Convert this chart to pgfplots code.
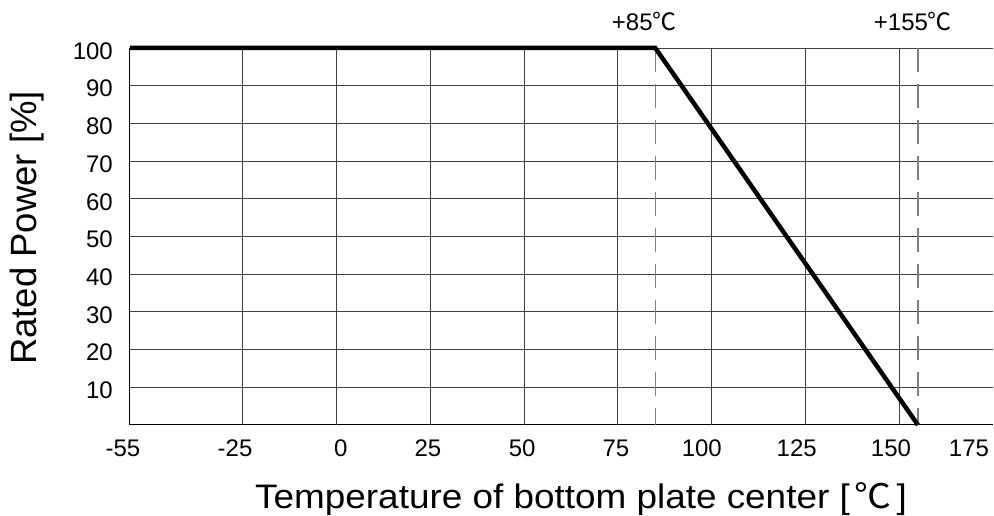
\documentclass[border=0pt]{standalone}
\usepackage{fontspec}
\setmainfont{Liberation Sans}
\newfontfamily\cjk{Noto Sans CJK SC}
\usepackage{graphicx}
\usepackage{pgfplots}
\pgfplotsset{compat=1.18}
\begin{document}
\begin{tikzpicture}
\path[use as bounding box] (-130pt,-91pt) rectangle (864pt,425pt);
\begin{axis}[
  at={(0,0)}, anchor=south west,
  scale only axis, width=863pt, height=377pt,
  xmin=-55, xmax=175, ymin=0, ymax=100,
  clip=false,
  /pgf/number format/assume math mode=true,
  axis x line*=bottom, axis y line*=left,
  axis line style={-, black, line width=1pt},
  xtick={-55,-27,1.2,24.4,49.5,74.5,97.4,122.7,147.8,168.6},
  xticklabels={\makebox[0pt]{-55\hspace*{14pt}},-25,0,25,50,75,100,125,150,175},
  xmajorgrids=false, ymajorgrids=true,
  extra x ticks={-25,0,25,50,75,100,125,150},
  extra x tick labels={},
  extra x tick style={grid=major},
  ytick={10,20,30,40,50,60,70,80,90,100},
  major grid style={black!75, line width=0.9pt},
  major tick length=0pt,
  tick label style={font=\fontsize{24}{28}\selectfont},
  xticklabel style={anchor=north, inner sep=0pt, yshift=-15pt},
  yticklabel style={anchor=east, inner sep=0pt, xshift=-17pt, yshift=-3pt},
  xlabel={\scalebox{1.085}[1]{Temperature of bottom plate center [\hspace{4pt}{\cjk ℃}\hspace{5pt}]}},
  ylabel={Rated Power [\%]},
  xlabel style={font=\fontsize{34}{40}\selectfont, at={(axis description cs:0.5226,-0.2202)}, anchor=base, inner sep=0pt},
  ylabel style={font=\fontsize{36.5}{40}\selectfont, at={(axis description cs:-0.139,0.5225)}, anchor=north, inner sep=0pt},
]
\addplot[gray, line width=1.3pt, dash pattern=on 24pt off 12pt] coordinates {(85,100) (85,0)};
\addplot[gray, line width=1.3pt, dash pattern=on 24pt off 12pt] coordinates {(155,100) (155,0)};
\addplot[black, line width=4.5pt, line join=miter] coordinates {(-55,100) (85,100) (155,0)};
\node[anchor=base, inner sep=0pt, font=\fontsize{24}{28}\selectfont] at ([xshift=-11pt,yshift=17pt]axis cs:85,100) {+85{\cjk ℃}};
\node[anchor=base, inner sep=0pt, font=\fontsize{24}{28}\selectfont] at ([xshift=-5pt,yshift=17pt]axis cs:155,100) {+155{\cjk ℃}};
\end{axis}
\end{tikzpicture}
\end{document}
